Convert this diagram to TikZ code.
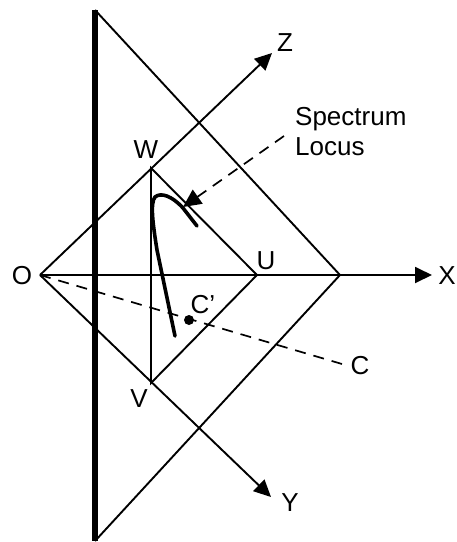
\documentclass[tikz,border=0pt]{standalone}
\usepackage{fontspec}
\setmainfont{Liberation Sans}
\usetikzlibrary{arrows.meta,calc}
\tikzset{
    axislabel/.style={font=\fontsize{26}{30}\selectfont, inner sep=0pt},
    edge/.style={line width=1.9pt, black},
    axis/.style={line width=1.9pt, black, -{Triangle[length=17pt,width=16pt]}},
    dashleg/.style={line width=1.7pt, black, dash pattern=on 11pt off 8pt},
    wall/.style={line width=5.5pt, black},
    locus/.style={line width=3.6pt, black, line cap=round},
}
\begin{document}
\begin{tikzpicture}[x=1pt,y=-1pt]
    \useasboundingbox (0,0) rectangle (457,542);
    \fill[white] (0,0) rectangle (457,542);

    % Corners
    \coordinate (O) at (40,275);
    \coordinate (U) at (257,275);
    \coordinate (V) at (151,383);
    \coordinate (W) at (151,168);
    \coordinate (T) at (95,10);
    \coordinate (B) at (95,541);
    \coordinate (R) at (340,275);

    % Labels
    \node[axislabel] (Olabel) at (22,276) {O};
    \node[axislabel] (Xlabel) at (447,276) {X};
    \node[axislabel] (Ylabel) at (290,503) {Y};
    \node[axislabel] (Zlabel) at (285,43) {Z};
    \node[axislabel] (Ulabel) at (266,261) {U};
    \node[axislabel] (Vlabel) at (139,399) {V};
    \node[axislabel] (Wlabel) at (146,150) {W};
    \node[axislabel] (Cplabel) at (203,305) {C’};
    \node[axislabel] (Clabel) at (360,366) {C};
    \node[axislabel, align=left, anchor=north west] (Slabel) at (295,107) {Spectrum\\Locus};

    % Axes
    \draw[axis] (O) -- (432,275);
    \draw[axis] (O) -- (272,53);
    \draw[axis] (O) -- (271,497);

    % Plane
    \draw[wall] (T) -- (B);
    \draw[edge] (T) -- (R) -- (B);
    \draw[edge] (U) -- (W) -- (V) -- cycle;

    % Locus
    \draw[locus] (197,226) -- (183,208) .. controls (172,196) and (161,192) .. (155,197)
        .. controls (150,203) and (153,225) .. (157,250) -- (175,336);
    \fill (189,320) circle (5pt);

    % Dashed lines
    \coordinate (Cend) at (342,364);
    \coordinate (Send) at (284,136);
    \coordinate (Stip) at (183,207);
    \draw[dashleg] (O) -- (Cend);
    \draw[dashleg, -{Triangle[length=18pt,width=17pt]}] (Send) -- (Stip);
\end{tikzpicture}
\end{document}
